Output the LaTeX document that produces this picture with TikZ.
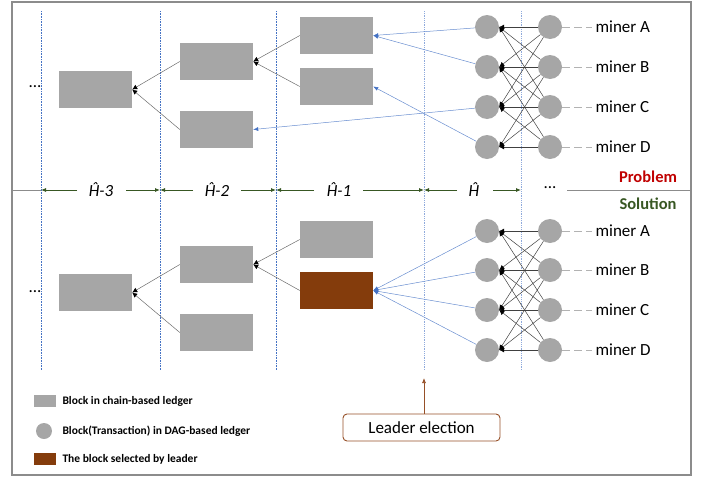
\documentclass[tikz,border=0pt]{standalone}
\usepackage{fontspec}
\setmainfont{Carlito}
\usetikzlibrary{arrows.meta, positioning}

\definecolor{blockgray}{RGB}{166,166,166}
\definecolor{leaderbrown}{RGB}{132,60,12}
\definecolor{boxbrown}{RGB}{150,80,40}
\definecolor{lineblue}{RGB}{68,114,196}
\definecolor{lightblue}{RGB}{143,170,220}
\definecolor{dimgreen}{RGB}{56,87,35}
\definecolor{probred}{RGB}{192,0,0}
\definecolor{framegray}{RGB}{140,140,140}

\tikzset{
  block/.style={fill=blockgray, minimum width=73pt, minimum height=37pt, inner sep=0pt},
  chosen/.style={block, fill=leaderbrown},
  dagnode/.style={circle, fill=blockgray, minimum size=24pt, inner sep=0pt},
  chainlink/.style={draw=gray!85!black, line width=0.5pt, -{Latex[color=black, length=5pt, width=5pt]}},
  daglink/.style={draw=black!75, line width=0.5pt, -{Latex[color=black, length=5pt, width=5pt]}},
  votelink/.style={draw=lineblue!80, line width=0.5pt, -{Latex[color=lineblue, length=5pt, width=4pt]}},
  height/.style={draw=lineblue, densely dotted, line width=0.6pt},
  heightlight/.style={draw=lightblue, densely dotted, line width=0.8pt},
  dimarrow/.style={draw=dimgreen, line width=0.8pt, -{Latex[length=5pt, width=4pt]}},
  minerlabel/.style={anchor=west, font=\fontsize{17}{20}\selectfont},
  minertie/.style={draw=gray!60, dashed, dash pattern=on 8pt off 4pt, line width=0.8pt},
  legendtext/.style={anchor=west, font=\bfseries\fontsize{11.5}{13}\selectfont},
  hlabel/.style={font=\itshape\fontsize{17}{20}\selectfont}
}

\begin{document}
\begin{tikzpicture}[x=1pt, y=-1pt]
\useasboundingbox (0,0) rectangle (705,477);
\draw[framegray, line width=1.2pt] (12,2) rectangle (691,475);

% height boundaries
\draw[height] (41,11) -- (41,370);
\draw[height] (160,11) -- (160,370);
\draw[height] (276,11) -- (276,370);
\draw[heightlight] (424,11) -- (424,370);
\draw[heightlight] (521,11) -- (521,370);

% separator and height labels
\draw[framegray, line width=1pt] (12,190) -- (41,190);
\draw[framegray, line width=1pt] (567,190) -- (691,190);
\node[hlabel] (h3) at (101,190) {Ĥ-3};
\node[hlabel] (h2) at (217,190) {Ĥ-2};
\node[hlabel] (h1) at (339,190) {Ĥ-1};
\node[hlabel] (h0) at (474,190) {Ĥ};
\node[font=\fontsize{17}{20}\selectfont] (hdots) at (550,188) {...};
\coordinate (d0) at (41,190);
\coordinate (d1) at (160,190);
\coordinate (d2) at (276,190);
\coordinate (d3) at (424,190);
\coordinate (d4) at (521,190);
\draw[dimarrow] (77,190) -- (d0);
\draw[dimarrow] (126,190) -- (d1);
\draw[dimarrow] (193,190) -- (d1);
\draw[dimarrow] (241,190) -- (d2);
\draw[dimarrow] (314,190) -- (d2);
\draw[dimarrow] (363,190) -- (d3);
\draw[dimarrow] (457,190) -- (d3);
\draw[dimarrow] (493,190) -- (d4);

\node[text=probred, font=\bfseries\fontsize{16.5}{19}\selectfont] (problem) at (648,177) {Problem};
\node[text=dimgreen, font=\bfseries\fontsize{16.5}{19}\selectfont] (solution) at (648,204) {Solution};

% problem: chain blocks
\node[block] (tA) at (95.5,89.5) {};
\node[block] (tB1) at (216.5,61.5) {};
\node[block] (tB2) at (216.5,129.5) {};
\node[block] (tC1) at (336.5,35.5) {};
\node[block] (tC2) at (336.5,86.5) {};
\node[font=\fontsize{17}{20}\selectfont] (tdots) at (35,87) {...};
\draw[chainlink] (tB1.west) -- (tA.east);
\draw[chainlink] (tB2.west) -- (tA.east);
\draw[chainlink] (tC1.west) -- (tB1.east);
\draw[chainlink] (tC2.west) -- (tB1.east);

% problem: DAG
\foreach \y [count=\i] in {27,67,107,147} {
  \node[dagnode] (tl\i) at (487,\y) {};
  \node[dagnode] (tr\i) at (550,\y) {};
}
\foreach \j in {1,...,4} {
  \foreach \i in {1,...,4} {
    \pgfmathtruncatemacro{\gap}{abs(\i-\j)}
    \ifnum\gap<3 \draw[daglink] (tr\j) -- (tl\i.east); \fi
  }
}
\node[minerlabel] (tm1) at (592,27) {miner A};
\node[minerlabel] (tm2) at (592,67) {miner B};
\node[minerlabel] (tm3) at (592,107) {miner C};
\node[minerlabel] (tm4) at (592,147) {miner D};
\foreach \i in {1,...,4} \draw[minertie] (tr\i.east) -- (tm\i.west);
\draw[votelink] (tl1) -- (tC1.east);
\draw[votelink] (tl2) -- (tC1.east);
\draw[votelink] (tl3) -- (tB2.east);
\draw[votelink] (tl4) -- (tC2.east);

% solution: chain blocks
\node[block] (bA) at (95.5,292.5) {};
\node[block] (bB1) at (216.5,264.5) {};
\node[block] (bB2) at (216.5,332.5) {};
\node[block] (bC1) at (336.5,239.5) {};
\node[chosen] (bC2) at (336.5,290.5) {};
\node[font=\fontsize{17}{20}\selectfont] (bdots) at (35,292) {...};
\draw[chainlink] (bB1.west) -- (bA.east);
\draw[chainlink] (bB2.west) -- (bA.east);
\draw[chainlink] (bC1.west) -- (bB1.east);
\draw[chainlink] (bC2.west) -- (bB1.east);

% solution: DAG
\foreach \y [count=\i] in {231,270,310,350} {
  \node[dagnode] (bl\i) at (487,\y) {};
  \node[dagnode] (br\i) at (550,\y) {};
}
\foreach \j in {1,...,4} {
  \foreach \i in {1,...,4} {
    \pgfmathtruncatemacro{\gap}{abs(\i-\j)}
    \ifnum\gap<3 \draw[daglink] (br\j) -- (bl\i.east); \fi
  }
}
\node[minerlabel] (bm1) at (592,231) {miner A};
\node[minerlabel] (bm2) at (592,270) {miner B};
\node[minerlabel] (bm3) at (592,310) {miner C};
\node[minerlabel] (bm4) at (592,350) {miner D};
\foreach \i in {1,...,4} \draw[minertie] (br\i.east) -- (bm\i.west);
\foreach \i in {1,...,4} \draw[votelink] (bl\i) -- (bC2.east);

% leader election
\node[draw=boxbrown, line width=0.9pt, rounded corners=4pt, minimum width=157pt, minimum height=27pt, font=\fontsize{17}{20}\selectfont] (leader) at (421.5,427.5) {Leader election};
\coordinate (elect) at (424,378);
\draw[draw=boxbrown, line width=0.7pt, -{Latex[length=5pt, width=4pt]}] (leader.north -| elect) -- (elect);

% legend
\node[fill=blockgray, minimum width=22pt, minimum height=12pt, inner sep=0pt] (keyblock) at (45,401) {};
\node[legendtext] (keyblocktext) at (59,401) {Block in chain-based ledger};
\node[dagnode, minimum size=16pt] (keydag) at (44,431) {};
\node[legendtext] (keydagtext) at (59,431) {Block(Transaction) in DAG-based ledger};
\node[fill=leaderbrown, minimum width=22pt, minimum height=12pt, inner sep=0pt] (keychosen) at (45,459) {};
\node[legendtext] (keychosentext) at (59,459) {The block selected by leader};
\end{tikzpicture}
\end{document}
